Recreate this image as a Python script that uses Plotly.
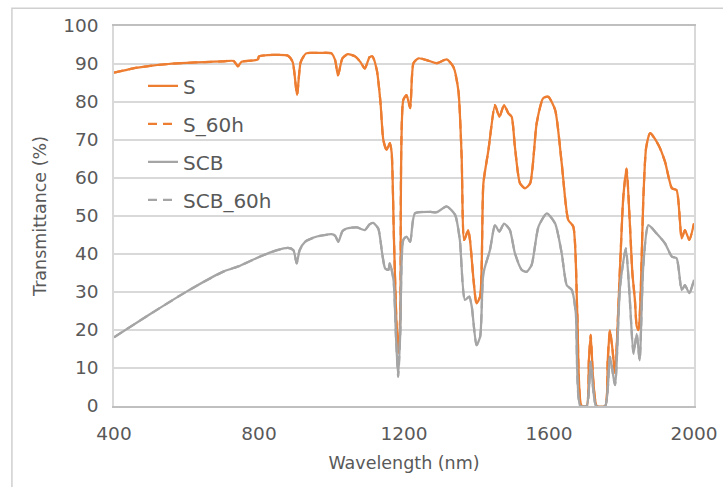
import plotly.graph_objects as go

# ---- data ----
wl_S = [400, 450, 500, 550, 600, 650, 700, 730, 742, 752, 790, 797, 800, 840, 880, 893, 905, 915,
        930, 960, 1000, 1010, 1018, 1030, 1045, 1065, 1080, 1092, 1105, 1113, 1125, 1135, 1143,
        1152, 1161, 1166, 1172, 1180, 1185, 1190, 1198, 1207, 1217, 1226, 1240, 1270, 1290, 1318,
        1336, 1350, 1359, 1366, 1377, 1382, 1392, 1400, 1410, 1419, 1433, 1451, 1463, 1476, 1488,
        1497, 1506, 1520, 1534, 1548, 1566, 1584, 1598, 1617, 1635, 1653, 1667, 1678, 1690, 1704,
        1710, 1715, 1722, 1732, 1755, 1762, 1768, 1775, 1782, 1796, 1805, 1814, 1822, 1830, 1837,
        1842, 1847, 1853, 1860, 1868, 1879, 1902, 1920, 1939, 1952, 1966, 1975, 1987, 2000]
T_S = [87.7, 88.8, 89.5, 90.0, 90.3, 90.5, 90.7, 90.8, 89.4, 90.6, 91.0, 91.2, 92.0, 92.4, 92.2,
       90.5, 81.8, 90.5, 92.8, 92.9, 92.8, 91.0, 87.0, 91.5, 92.6, 92.0, 90.5, 88.8, 91.8, 92.0,
       88.4, 80.0, 70.0, 67.4, 69.2, 66.6, 45.0, 20.0, 14.0, 25.0, 80.5, 81.8, 78.4, 90.2, 91.5,
       90.8, 90.2, 91.2, 89.3, 83.0, 65.6, 43.7, 46.3, 43.7, 33.0, 27.0, 28.8, 58.6, 67.4, 79.2,
       76.1, 79.2, 77.0, 76.1, 68.2, 58.6, 57.3, 58.6, 74.4, 81.0, 81.4, 77.9, 63.9, 49.0, 47.2,
       24.4, 0.0, 0.0, 12.0, 18.7, 6.8, 0.0, 0.0, 12.0, 20.0, 15.0, 8.7, 36.7, 55.0, 62.5, 50.0,
       35.0, 27.9, 21.0, 20.0, 30.0, 54.0, 68.0, 71.8, 68.7, 64.3, 57.3, 56.8, 44.1, 46.3, 43.7,
       48.0]

wl_SCB = [400, 500, 600, 700, 730, 745, 800, 850, 880, 895, 904, 912, 927, 960, 1000, 1010, 1019,
          1030, 1042, 1070, 1092, 1105, 1115, 1129, 1140, 1148, 1157, 1161, 1171, 1178, 1184, 1190,
          1198, 1207, 1217, 1230, 1272, 1290, 1318, 1341, 1354, 1368, 1380, 1387, 1400, 1410, 1419,
          1437, 1451, 1463, 1476, 1492, 1506, 1525, 1538, 1552, 1571, 1594, 1617, 1635, 1649, 1663,
          1674, 1686, 1704, 1715, 1730, 1755, 1768, 1782, 1796, 1812, 1823, 1833, 1842, 1850, 1860,
          1874, 1897, 1920, 1939, 1952, 1966, 1975, 1987, 2000]
T_SCB = [18.1, 24.2, 30.1, 35.3, 36.3, 36.8, 39.2, 41.0, 41.6, 41.0, 37.5, 41.0, 43.2, 44.6, 45.2,
         44.8, 43.2, 46.0, 46.7, 47.0, 46.3, 47.8, 48.2, 46.7, 40.0, 36.2, 35.8, 37.6, 33.2, 18.0,
         7.7, 20.0, 43.7, 44.6, 43.2, 50.7, 51.1, 51.0, 52.5, 50.3, 43.7, 27.9, 28.8, 26.1, 16.0,
         18.2, 34.9, 41.0, 47.6, 45.9, 48.0, 46.3, 40.2, 35.8, 35.3, 37.1, 47.2, 50.7, 48.0, 40.2,
         31.8, 30.5, 24.4, 0.0, 0.0, 11.7, 0.0, 0.0, 13.0, 5.5, 31.4, 41.5, 27.9, 13.8, 19.0, 12.0,
         36.7, 47.6, 45.4, 42.8, 39.3, 38.9, 30.5, 31.8, 29.7, 33.2]

# the 60 h curves coincide with the fresh ones in the picture
wl_S_60h, T_S_60h = wl_S, T_S
wl_SCB_60h, T_SCB_60h = wl_SCB, T_SCB

x_ticks = [400, 800, 1200, 1600, 2000]
y_ticks = [0, 10, 20, 30, 40, 50, 60, 70, 80, 90, 100]

ORANGE = "#ED7D31"
GRAY = "#A5A5A5"
TXT = "#595959"
FONT = "DejaVu Sans"

fig = go.Figure()
series = [
    ("S", wl_S, T_S, ORANGE, "solid"),
    ("S_60h", wl_S_60h, T_S_60h, ORANGE, "9px,6px"),
    ("SCB", wl_SCB, T_SCB, GRAY, "solid"),
    ("SCB_60h", wl_SCB_60h, T_SCB_60h, GRAY, "9px,6px"),
]
for name, xs, ys, col, dash in series:
    fig.add_trace(go.Scatter(
        x=xs, y=ys, name=name, mode="lines", legendgroup=name,
        line=dict(color=col, width=2.25, dash=dash, shape="spline", smoothing=0.6),
    ))

fig.update_layout(
    width=723, height=487,
    margin=dict(l=114, r=29, t=26, b=81, autoexpand=False),
    paper_bgcolor="white", plot_bgcolor="white",
    font=dict(family=FONT, color=TXT, size=18),
    showlegend=True,
    legend=dict(
        x=0.05, y=0.894, xanchor="left", yanchor="top",
        bgcolor="rgba(0,0,0,0)", font=dict(size=20, color=TXT, family=FONT),
        traceorder="grouped", tracegroupgap=9, itemwidth=30,
    ),
    shapes=[dict(type="rect", xref="paper", yref="paper",
                 x0=-0.176, x1=1.2, y0=-0.4, y1=1.047,
                 line=dict(color="#D0D0D0", width=1.5), fillcolor="rgba(0,0,0,0)", layer="below")],
)
fig.update_xaxes(
    range=[400, 2000], tickvals=x_ticks, ticktext=[str(v) for v in x_ticks],
    showgrid=False, zeroline=False, showline=True, linecolor="#BFBFBF", linewidth=1.5,
    mirror=True, ticks="", tickfont=dict(size=18.5, color=TXT, family=FONT),
    ticklabelstandoff=10, automargin=False,
    title=dict(text="Wavelength (nm)", font=dict(size=17.5, color=TXT, family=FONT), standoff=14),
)
fig.update_yaxes(
    range=[0, 100], tickvals=y_ticks,
    showgrid=True, gridcolor="#D9D9D9", gridwidth=1.5, zeroline=False,
    showline=True, linecolor="#D9D9D9", linewidth=1.5, mirror=True, ticks="",
    tickfont=dict(size=18.5, color=TXT, family=FONT), ticklabelstandoff=10, automargin=False,
    title=dict(text="Transmittance (%)", font=dict(size=17.5, color=TXT, family=FONT), standoff=12),
)

fig.write_html(
    "out.html",
    config={"displayModeBar": False},
    post_script="document.body.style.margin='0px';document.body.style.overflow='hidden';",
)
